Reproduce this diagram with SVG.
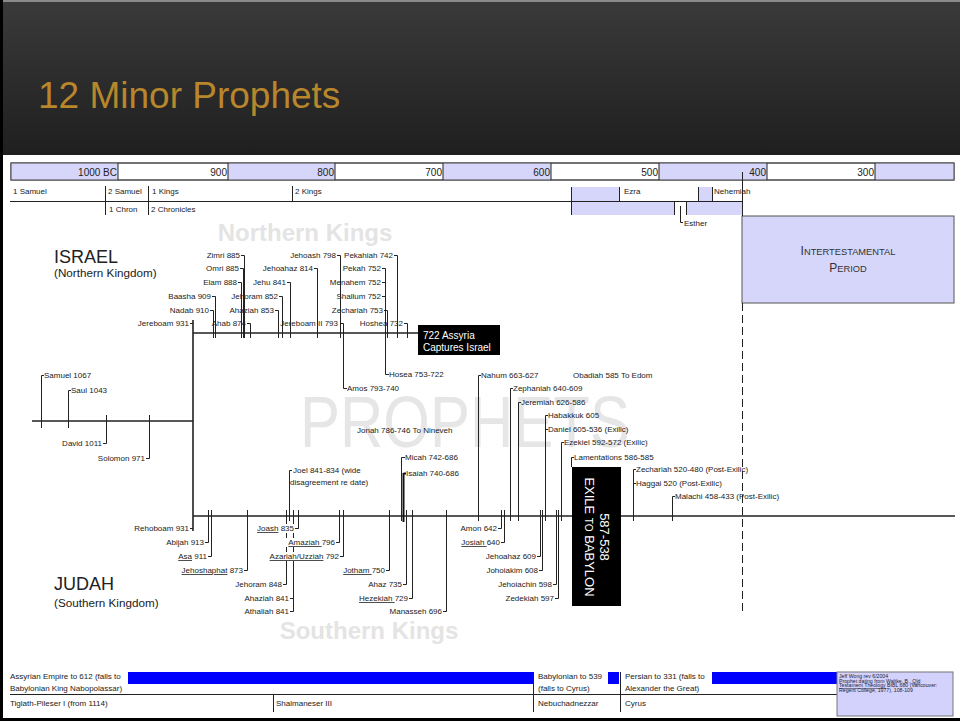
<svg xmlns="http://www.w3.org/2000/svg" width="960" height="721" viewBox="0 0 960 721">
<defs>
<linearGradient id="hg" x1="0" y1="0" x2="0" y2="1">
<stop offset="0" stop-color="#3a3a3a"/>
<stop offset="1" stop-color="#1f1f1f"/>
</linearGradient>
<style>
text{font-family:"Liberation Sans",Arial,sans-serif}
.t{font-size:8px;fill:#222}
.e{text-anchor:end}
.l{stroke:#222;stroke-width:1;fill:none}
.m{stroke:#222;stroke-width:1.6;fill:none}
.lav{fill:#d6d6fa}
.tl{font-size:10px;fill:#222;text-anchor:end}
.wm{font-weight:bold;font-size:24px;fill:#e4e4e4;text-anchor:middle}
.u{text-decoration:underline}
.bl{fill:#0000ff}
.cr{font-size:5.2px;fill:#223}
</style>
</defs>
<rect width="960" height="721" fill="#fff"/>
<!-- header -->
<g id="header">
<rect x="0" y="0" width="960" height="155" fill="url(#hg)"/>
<rect x="0" y="0" width="960" height="2" fill="#8a8a8a"/>
<text x="38" y="108" font-size="37" fill="#b8862b">12 Minor Prophets</text>
</g>
<!-- watermarks -->
<g id="watermarks">
<text x="305" y="241" class="wm">Northern Kings</text>
<text x="369" y="639" class="wm">Southern Kings</text>
<text x="300" y="447" font-size="72" fill="#e6e6e6" textLength="330" lengthAdjust="spacingAndGlyphs">PROPHETS</text>
</g>
<!-- timeline -->
<g id="timeline">
<rect x="11" y="163" width="943" height="17" fill="#fff" stroke="#444"/>
<rect x="11" y="163" width="107" height="17" class="lav"/>
<rect x="228" y="163" width="107" height="17" class="lav"/>
<rect x="443" y="163" width="108" height="17" class="lav"/>
<rect x="659" y="163" width="108" height="17" class="lav"/>
<rect x="875" y="163" width="79" height="17" class="lav"/>
<rect x="11" y="163" width="943" height="17" fill="none" stroke="#444"/>
<path class="l" d="M118 163V180M228 163V180M335 163V180M443 163V180M551 163V180M659 163V180M767 163V180M875 163V180"/>
<text x="117" y="176" class="tl">1000 BC</text>
<text x="227" y="176" class="tl">900</text>
<text x="334" y="176" class="tl">800</text>
<text x="442" y="176" class="tl">700</text>
<text x="550" y="176" class="tl">600</text>
<text x="658" y="176" class="tl">500</text>
<text x="766" y="176" class="tl">400</text>
<text x="874" y="176" class="tl">300</text>
</g>
<!-- books -->
<g id="books">
<rect x="571" y="187" width="48" height="14" class="lav"/>
<rect x="698" y="187" width="14" height="14" class="lav"/>
<rect x="571" y="201" width="103" height="14" class="lav"/>
<rect x="686" y="201" width="56" height="14" class="lav"/>
<text x="13" y="194" class="t">1 Samuel</text>
<text x="108" y="194" class="t">2 Samuel</text>
<text x="152" y="194" class="t">1 Kings</text>
<text x="295" y="194" class="t">2 Kings</text>
<text x="109" y="212" class="t">1 Chron</text>
<text x="151" y="212" class="t">2 Chronicles</text>
<text x="624" y="194" class="t">Ezra</text>
<text x="714" y="194" class="t">Nehemiah</text>
<text x="684" y="226" class="t">Esther</text>
</g>
<g id="intertestamental">
<rect x="742" y="216" width="212" height="87" class="lav" stroke="#555"/>
<text x="848" y="255" text-anchor="middle" fill="#333"><tspan font-size="12">I</tspan><tspan font-size="9.3">NTERTESTAMENTAL</tspan></text>
<text x="848" y="272" text-anchor="middle" fill="#333"><tspan font-size="12">P</tspan><tspan font-size="9.3">ERIOD</tspan></text>
</g>
<!-- connectors -->
<g id="connectors">
<path class="l" d="M10 201.5H742M105.5 186V215M148.5 186V215M292.5 186V201M571.5 187V215M619.5 187V201M698.5 187V201M712.5 187V201M674.5 201V215M686.5 201V215M680.5 206V222.5H683"/>
<path class="l" d="M742.5 172V216"/>
<path class="l" d="M742.5 303V612" stroke-dasharray="8 4"/>
<!-- main lines -->
<path class="m" d="M193 333H418M193 320V531M32 421H193M193 516H955"/>
<!-- pre-monarchy -->
<path class="l" d="M41.5 428V375.5H44M68.5 428V390.5H71M106.5 415V443.5H103M149.5 415V458.5H146"/>
<!-- israel kings -->
<path class="l" d="M241 255.5H244.5V338M240 268.5H243.5V338M238 282.5H241.5V338M212 296.5H215.5V338M210 310.5H213.5V338M190 323.5H193M247 323.5H250.5V338M279 296.5H282.5V338M275 310.5H278.5V338M287 282.5H290.5V338M314 268.5H317.5V338M337 255.5H340.5V338M340 323.5H343.5V338M394 255.5H397.5V338M382 268.5H385.5V338M382 282.5H385.5M382 296.5H385.5M384 310.5H387.5V338M404 323.5H407.5V338"/>
<!-- judah kings -->
<path class="l" d="M190 528.5H193M205 542.5H208.5V510M208 556.5H211.5V510M244 570.5H247.5V510M283 584.5H286.5V510M290 598.5H293.5V510M290 611.5H293.5V598M295 528.5H298.5V510M336 542.5H339.5V510M340 556.5H343.5V510M386 570.5H389.5V510M403 584.5H406.5V510M409 598.5H412.5V510M443 611.5H446.5V510M498 528.5H501.5V510M501 542.5H504.5V510M537 556.5H540.5V510M539 570.5H542.5V510M553 584.5H556.5V510M555 598.5H558.5V510"/>
<!-- prophets -->
<path class="l" d="M385.5 333V374.5H389M343.5 333V388.5H347M292 470.5H289.5V521M405 457.5H401.5V521M481 375.5H478.5V521M513 388.5H510.5V521M521 402.5H518.5V521M548 415.5H545.5V521M545.5 429.5H548M564 442.5H561.5V521M574 457.5H571.5V467M636 469.5H633.5V521M633.5 483.5H636M675 496.5H672.5V521"/>
<path d="M403.5 473.5H406M403.5 473V522" stroke="#111" stroke-width="2" fill="none"/>
</g>
<!-- labels behind-masks -->
<rect x="253" y="524" width="42" height="9" fill="#fff"/>
<rect x="285" y="538" width="51" height="9" fill="#fff"/>
<rect x="264" y="552" width="76" height="9" fill="#fff"/>
<path class="l" d="M295 528.5H298.5M336 542.5H339.5M340 556.5H343.5"/>
<!-- Israel / Judah titles -->
<g id="israel">
<text x="54" y="263" font-size="18" fill="#222">ISRAEL</text>
<text x="54" y="277" font-size="11.7" fill="#222">(Northern Kingdom)</text>
</g>
<g id="judah">
<text x="54" y="590" font-size="18" fill="#222">JUDAH</text>
<text x="54" y="607" font-size="11.7" fill="#222">(Southern Kingdom)</text>
</g>
<g id="assyria722">
<rect x="418" y="325" width="82" height="30" fill="#000"/>
<text x="423" y="339" font-size="10" fill="#fff">722 Assyria</text>
<text x="423" y="351" font-size="10" fill="#fff">Captures Israel</text>
</g>
<g id="exile">
<rect x="572" y="467" width="49" height="139" fill="#000"/>
<text transform="translate(600,537) rotate(90)" font-size="13" fill="#fff" text-anchor="middle">587-538</text>
<text transform="translate(585,537) rotate(90)" font-size="13" fill="#fff" text-anchor="middle">EXILE <tspan font-size="10">TO</tspan> BABYLON</text>
</g>
<!-- pre-monarchy labels -->
<g id="samuel"><text x="44" y="378" class="t">Samuel 1067</text></g>
<g id="saul"><text x="71" y="393" class="t">Saul 1043</text></g>
<g id="david"><text x="102" y="446" class="t e">David 1011</text></g>
<g id="solomon"><text x="145" y="461" class="t e">Solomon 971</text></g>
<!-- Israel kings -->
<g id="zimri"><text x="240" y="258" class="t e">Zimri 885</text></g>
<g id="omri"><text x="239" y="271" class="t e">Omri 885</text></g>
<g id="elam"><text x="237" y="285" class="t e">Elam 888</text></g>
<g id="baasha"><text x="211" y="299" class="t e">Baasha 909</text></g>
<g id="nadab"><text x="209" y="313" class="t e">Nadab 910</text></g>
<g id="jereboam"><text x="189" y="326" class="t e">Jereboam 931</text></g>
<g id="ahab"><text x="246" y="326" class="t e">Ahab 874</text></g>
<g id="jehoram-i"><text x="278" y="299" class="t e">Jehoram 852</text></g>
<g id="ahaziah-i"><text x="274" y="313" class="t e">Ahaziah 853</text></g>
<g id="jehu"><text x="286" y="285" class="t e">Jehu 841</text></g>
<g id="jehoahaz-i"><text x="313" y="271" class="t e">Jehoahaz 814</text></g>
<g id="jehoash"><text x="336" y="258" class="t e">Jehoash 798</text></g>
<g id="jereboam2"><text x="338" y="326" class="t e">Jereboam II 793</text></g>
<g id="pekahiah"><text x="393" y="258" class="t e">Pekahiah 742</text></g>
<g id="pekah"><text x="381" y="271" class="t e">Pekah 752</text></g>
<g id="menahem"><text x="381" y="285" class="t e">Menahem 752</text></g>
<g id="shallum"><text x="381" y="299" class="t e">Shallum 752</text></g>
<g id="zechariah-i"><text x="383" y="313" class="t e">Zechariah 753</text></g>
<g id="hoshea"><text x="403" y="326" class="t e">Hoshea 732</text></g>
<!-- Judah kings -->
<g id="rehoboam"><text x="189" y="531" class="t e">Rehoboam 931</text></g>
<g id="abijah"><text x="204" y="545" class="t e">Abijah 913</text></g>
<g id="asa"><text x="207" y="559" class="t e"><tspan class="u">Asa</tspan> 911</text></g>
<g id="jehoshaphat"><text x="243" y="573" class="t e"><tspan class="u">Jehoshaphat</tspan> 873</text></g>
<g id="jehoram-j"><text x="282" y="587" class="t e">Jehoram 848</text></g>
<g id="ahaziah-j"><text x="289" y="601" class="t e">Ahaziah 841</text></g>
<g id="athaliah"><text x="289" y="614" class="t e">Athaliah 841</text></g>
<g id="joash"><text x="294" y="531" class="t e"><tspan class="u">Joash</tspan> 835</text></g>
<g id="amaziah"><text x="335" y="545" class="t e"><tspan class="u">Amaziah </tspan>796</text></g>
<g id="azariah"><text x="339" y="559" class="t e"><tspan class="u">Azariah/Uzziah</tspan> 792</text></g>
<g id="jotham"><text x="385" y="573" class="t e"><tspan class="u">Jotham </tspan>750</text></g>
<g id="ahaz"><text x="402" y="587" class="t e">Ahaz 735</text></g>
<g id="hezekiah"><text x="408" y="601" class="t e"><tspan class="u">Hezekiah </tspan>729</text></g>
<g id="manasseh"><text x="442" y="614" class="t e">Manasseh 696</text></g>
<g id="amon"><text x="497" y="531" class="t e">Amon 642</text></g>
<g id="josiah"><text x="500" y="545" class="t e"><tspan class="u">Josiah </tspan>640</text></g>
<g id="jehoahaz-j"><text x="536" y="559" class="t e">Jehoahaz 609</text></g>
<g id="johoiakim"><text x="538" y="573" class="t e">Johoiakim 608</text></g>
<g id="jehoiachin"><text x="552" y="587" class="t e">Jehoiachin 598</text></g>
<g id="zedekiah"><text x="554" y="601" class="t e">Zedekiah 597</text></g>
<!-- prophets -->
<g id="hosea"><text x="389" y="377" class="t">Hosea 753-722</text></g>
<g id="amos"><text x="347" y="391" class="t">Amos 793-740</text></g>
<g id="jonah"><text x="357" y="433" class="t">Jonah 786-746 To Nineveh</text></g>
<g id="joel"><text x="293" y="473" class="t">Joel 841-834 (wide</text><text x="290" y="485" class="t">disagreement re date)</text></g>
<g id="micah"><text x="405" y="460" class="t">Micah 742-686</text></g>
<g id="isaiah"><text x="406" y="476" class="t">Isaiah 740-686</text></g>
<g id="nahum"><text x="481" y="378" class="t">Nahum 663-627</text></g>
<g id="obadiah"><text x="573" y="378" class="t">Obadiah 585 To Edom</text></g>
<g id="zephaniah"><text x="513" y="391" class="t">Zephaniah 640-609</text></g>
<g id="jeremiah"><text x="521" y="405" class="t">Jeremiah 626-586</text></g>
<g id="habakkuk"><text x="548" y="418" class="t">Habakkuk 605</text></g>
<g id="daniel"><text x="548" y="432" class="t">Daniel 605-536 (Exilic)</text></g>
<g id="ezekiel"><text x="564" y="445" class="t">Ezekiel 592-572 (Exilic)</text></g>
<g id="lamentations"><text x="574" y="460" class="t">Lamentations 586-585</text></g>
<g id="zechariah-p"><text x="636" y="472" class="t">Zechariah 520-480 (Post-Exilic)</text></g>
<g id="haggai"><text x="636" y="486" class="t">Haggai 520 (Post-Exilic)</text></g>
<g id="malachi"><text x="675" y="499" class="t">Malachi 458-433 (Post-Exilic)</text></g>
<!-- empires -->
<g id="empires">
<rect x="128" y="672" width="405" height="12" class="bl"/>
<rect x="608" y="672" width="11" height="12" class="bl"/>
<rect x="712" y="672" width="125" height="12" class="bl"/>
<path class="l" d="M10 694.5H837M273.5 694V712M533.5 672V712M620.5 672V712"/>
<text x="10" y="679" class="t">Assyrian Empire to 612 (falls to</text>
<text x="10" y="691" class="t">Babylonian King Nabopolassar)</text>
<text x="10" y="706" class="t">Tiglath-Pileser I (from 1114)</text>
<text x="276" y="706" class="t">Shalmaneser III</text>
<text x="538" y="679" class="t">Babylonian to 539</text>
<text x="538" y="691" class="t">(falls to Cyrus)</text>
<text x="538" y="706" class="t">Nebuchadnezzar</text>
<text x="625" y="679" class="t">Persian to 331 (falls to</text>
<text x="625" y="691" class="t">Alexander the Great)</text>
<text x="625" y="706" class="t">Cyrus</text>
</g>
<g id="credit">
<rect x="837" y="672" width="116" height="44" fill="#d2d2fc" stroke="#777"/>
<text x="839" y="678" class="cr">Jeff Wong rev 6/2004</text>
<text x="839" y="682.7" class="cr">Prophet dating from Waltke, B., <tspan class="u">Old</tspan></text>
<text x="839" y="687.4" class="cr"><tspan class="u">Testament Theology</tspan> BIBL 680 (Vancouver:</text>
<text x="839" y="692.1" class="cr">Regent College, 1977), 108-109</text>
</g>
<!-- frame -->
<rect x="0" y="0" width="3" height="721" fill="#000"/>
<rect x="0" y="718" width="960" height="3" fill="#000"/>
</svg>
